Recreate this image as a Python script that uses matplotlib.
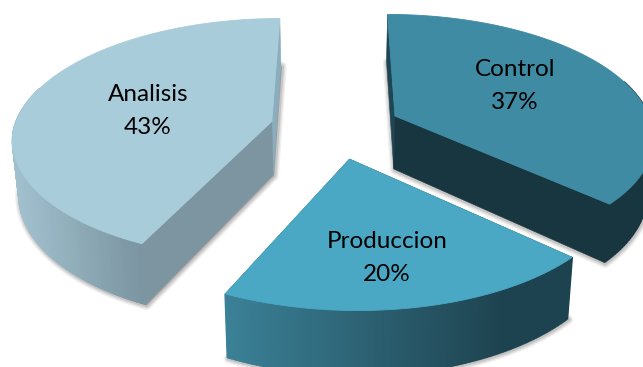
import numpy as np
import matplotlib
matplotlib.use('Agg')
import matplotlib.pyplot as plt
from matplotlib.patches import Polygon
from matplotlib.colors import to_rgb

names = ['Analisis', 'Control', 'Produccion']
shares = [43, 37, 20]
top_colors = ['#a8ccda', '#3e8ba3', '#4aa8c4']
back_colors = ['#8aaebd', '#1f4653', '#1f4653']
cut_colors = ['#7d95a1', '#18363f', '#18363f']
wall_left = ['#a2c1cf', '#18363f', '#3b8197']
wall_right = ['#7a94a0', '#18363f', '#1e4350']
text_spots = [(148, 111), (515, 86), (387, 258)]

# projection of the flat pie into the picture
x0, y0 = 335.5, 128
sx, sy, persp = 263, 122, 0.1475
lean = 0.04
explode = 0.25
radius = 0.98
# floor of the extrusion
depth, floor_sx, floor_sy = 53.6, 0.98, 1.06


def project(X, Y, floor=False):
    w = 1 + persp * Y
    u = sx * X / w
    v = sy * Y / w
    # the near half leans slightly to the right
    u = u + lean * np.maximum(0, -v)
    if floor:
        return x0 + floor_sx * u, y0 - floor_sy * v + depth
    return x0 + u, y0 - v


def blend(c1, c2, t):
    c1, c2 = np.array(to_rgb(c1)), np.array(to_rgb(c2))
    return tuple(c1 + (c2 - c1) * np.clip(t, 0, 1))


def quad(ax, xs, ys, color, z, lw=0.4):
    ax.add_patch(Polygon(np.column_stack([xs, ys]), closed=True, fc=color, ec=color, lw=lw, zorder=z))


fig = plt.figure(figsize=(6.43, 3.67), dpi=100)
ax = fig.add_axes([0, 0, 1, 1])
ax.set_xlim(0, 643)
ax.set_ylim(367, 0)
ax.axis('off')

# slices run clockwise from 12 o'clock, the first one goes the other way round
total = sum(shares)
spans = {}
spans[0] = (90, 90 + 360 * shares[0] / total)
spans[1] = (90 - 360 * shares[1] / total, 90)
spans[2] = (spans[0][1], spans[1][0] + 360)

for i in range(3):
    a0, a1 = spans[i]
    mid = np.radians((a0 + a1) / 2)
    cx, cy = explode * np.cos(mid), explode * np.sin(mid)
    t = np.radians(np.linspace(a0, a1, 160))
    X = cx + radius * np.cos(t)
    Y = cy + radius * np.sin(t)
    tx, ty = project(X, Y)
    fx, fy = project(X, Y, floor=True)
    ax_t, ay_t = project(cx, cy)
    ax_f, ay_f = project(cx, cy, floor=True)
    z = 10 * (i + 1)

    # soft shadow round the floor outline
    sil = np.column_stack([np.r_[ax_f, fx], np.r_[ay_f, fy]]) + [1, 1]
    for lw, alpha in [(7, 0.08), (5, 0.12), (3, 0.18)]:
        ax.add_patch(Polygon(sil, closed=True, fc='#555555', ec='#555555', lw=lw,
                             alpha=alpha, joinstyle='round', zorder=z))

    # flat walls of the cut, then the curved outer wall
    if i == 1:
        back, cut = -1, 0
    else:
        back, cut = 0, -1
    quad(ax, [ax_t, tx[back], fx[back], ax_f], [ay_t, ty[back], fy[back], ay_f], back_colors[i], z + 1)
    quad(ax, [ax_t, tx[cut], fx[cut], ax_f], [ay_t, ty[cut], fy[cut], ay_f], cut_colors[i], z + 1)

    # gradient runs left to right over the part facing the viewer
    front = np.sin(t) < 0.3
    lo, hi = tx[front].min(), tx[front].max()
    if i == 2:
        hi = lo + 0.8 * (hi - lo)
    for k in range(len(t) - 1):
        if not front[k]:
            continue
        col = blend(wall_left[i], wall_right[i], (tx[k] - lo) / (hi - lo))
        quad(ax, [tx[k], tx[k + 1], fx[k + 1], fx[k]], [ty[k], ty[k + 1], fy[k + 1], fy[k]], col, z + 2, lw=1.2)

    # top face
    top = np.column_stack([np.r_[ax_t, tx], np.r_[ay_t, ty]])
    ax.add_patch(Polygon(top, closed=True, fc=top_colors[i], ec=top_colors[i], lw=0.6, zorder=z + 3))

    lx, ly = text_spots[i]
    ax.text(lx, ly, '{}\n{}%'.format(names[i], shares[i]), ha='center', va='center',
            family='Lato', fontsize=17.5, linespacing=1.7, color='black', zorder=50)

fig.savefig('out.png', dpi=100)
